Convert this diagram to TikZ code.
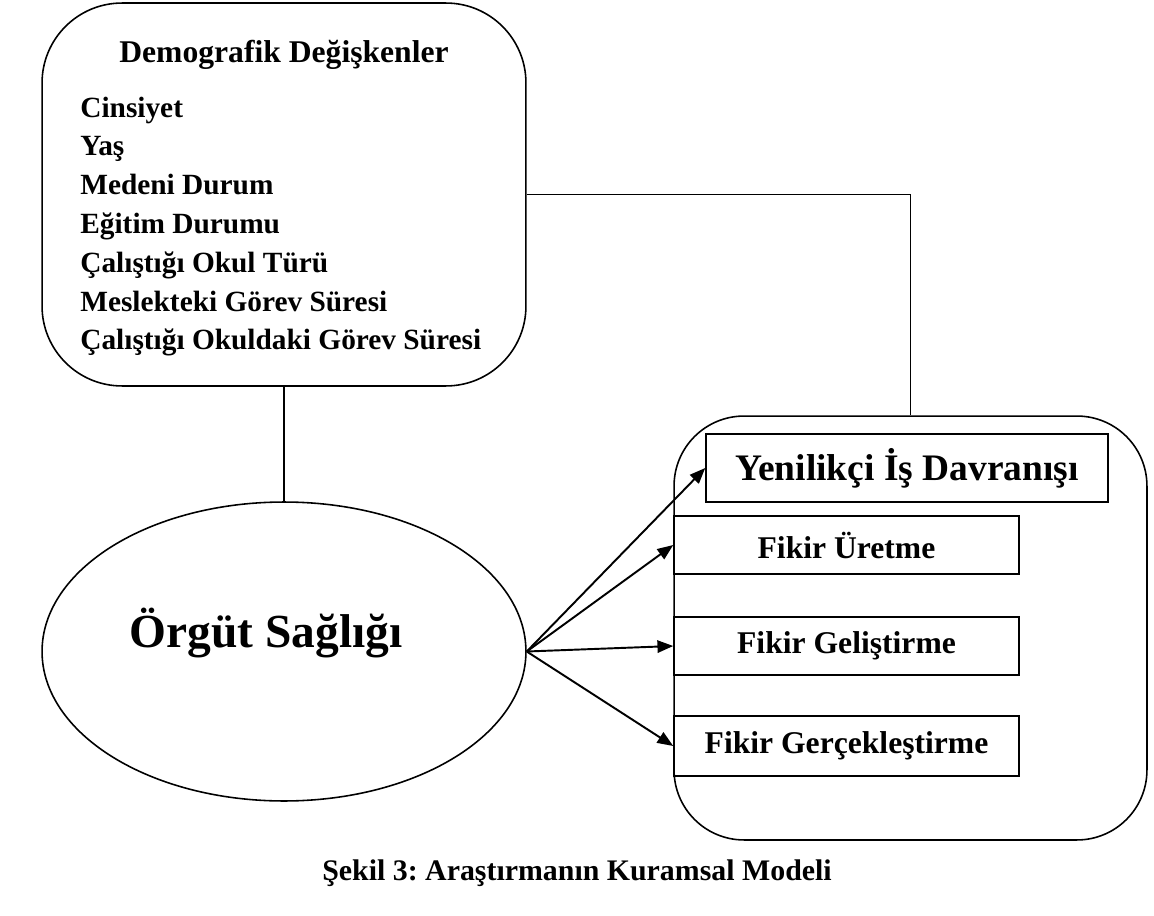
\documentclass[tikz,border=0pt]{standalone}
\usepackage{fontspec}
\setmainfont{Liberation Serif}
\usetikzlibrary{arrows.meta,shapes.geometric}
\frenchspacing
\tikzset{
	kutu/.style={draw, line width=0.9pt, inner sep=0pt},
	oge/.style={anchor=base west, inner sep=0pt, font=\fontsize{16.7}{16.7}\selectfont\bfseries},
	ok/.style={line width=1.1pt, -{Triangle[length=9pt,width=7pt]}}
}
\begin{document}
\begin{tikzpicture}[x=0.02cm, y=-0.02cm]
		\useasboundingbox (0,0) rectangle (1154,916);
		% demografik degiskenler
		\node[kutu, rounded corners=1.6cm, minimum width=9.68cm, minimum height=7.66cm] (demo) at (284,194.5) {};
		\node[anchor=base, inner sep=0pt, font=\fontsize{18}{18}\selectfont\bfseries] (demobaslik) at (284,62) {Demografik Değişkenler};
		\foreach \t [count=\i] in {Cinsiyet, Yaş, Medeni Durum, Eğitim Durumu, Çalıştığı Okul Türü, Meslekteki Görev Süresi, Çalıştığı Okuldaki Görev Süresi}
		\node[oge] (oge\i) at (80,78.2+38.8*\i) {\t};
		% orgut sagligi
		\node[kutu, ellipse, minimum width=9.68cm, minimum height=5.98cm] (saglik) at (284,651.5) {};
		\node[anchor=base, inner sep=0pt, font=\fontsize{27}{27}\selectfont\bfseries] (saglikyazi) at (266,647) {Örgüt Sağlığı};
		% yenilikci is davranisi
		\node[kutu, rounded corners=1.4cm, minimum width=9.46cm, minimum height=8.48cm] (yid) at (910.5,628) {};
		\node[kutu, minimum width=8.04cm, minimum height=1.36cm, font=\fontsize{21.3}{21.3}\selectfont\bfseries] (yenilik) at (907,468) {Yenilikçi İş Davranışı};
		\node[kutu, minimum width=6.9cm, minimum height=1.16cm, font=\fontsize{18}{18}\selectfont\bfseries] (uretme) at (846.5,545) {Fikir Üretme};
		\node[kutu, minimum width=6.9cm, minimum height=1.16cm, font=\fontsize{18}{18}\selectfont\bfseries] (gelistirme) at (846.5,646) {Fikir Geliştirme};
		\node[kutu, minimum width=6.9cm, minimum height=1.2cm, font=\fontsize{18}{18}\selectfont\bfseries] (gercek) at (846.5,746) {Fikir Gerçekleştirme};
		% baglantilar
		\draw[line width=0.9pt] (demo.south) -- (saglik.north);
		\draw[line width=0.9pt] (demo.east) -| (yid.north);
		\draw[ok] (saglik.east) -- (yenilik.west);
		\draw[ok] (saglik.east) -- (uretme.west);
		\draw[ok] (saglik.east) -- (gelistirme.west);
		\draw[ok] (saglik.east) -- (gercek.west);
		% sekil adi
		\node[anchor=base, inner sep=0pt, font=\fontsize{17}{17}\selectfont\bfseries] (sekil) at (577,880) {Şekil 3: Araştırmanın Kuramsal Modeli};
	\end{tikzpicture}
\end{document}
